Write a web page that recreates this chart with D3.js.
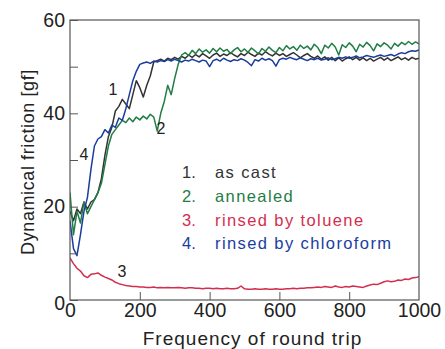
<!DOCTYPE html>
<html><head><meta charset="utf-8">
<script src="https://cdn.jsdelivr.net/npm/d3@7"></script>
<style>
html,body{margin:0;padding:0;background:#fff;}
svg{display:block;font-family:"Liberation Sans",Arial,sans-serif;}
</style></head>
<body><svg id="c" width="445" height="349"></svg>
<script>
const rounds = [0,10,20,30,40,50,60,70,80,90,100,110,120,130,140,150,160,170,180,190,200,210,220,230,240,250,260,270,280,290,300,310,320,330,340,350,360,370,380,390,400,410,420,430,440,450,460,470,480,490,500,510,520,530,540,550,560,570,580,590,600,610,620,630,640,650,660,670,680,690,700,710,720,730,740,750,760,770,780,790,800,810,820,830,840,850,860,870,880,890,900,910,920,930,940,950,960,970,980,990,1000];

const asCast = [19,17,19.5,18.5,21,19.5,21,21.5,23,26,31,35,37,40.5,41.5,43,42,41,44,47,45.5,43.5,46,48,51,51.3,51.6,51.2,51.8,51.5,52,51.6,52.2,51.8,52.5,52,52.6,52.1,52.8,52.3,51.8,52.5,52.9,52.2,52.7,52.4,53,52.5,52.1,52.8,52.4,53.1,52.6,52.2,52.9,52.5,53.2,52.7,52.3,52.9,52.4,52.8,52.2,52.6,53,52.5,51.9,52.4,52.8,52.2,51.8,52.3,51.6,52.1,51.4,52,51.3,51.9,51.2,51.7,52.1,51.5,52,51.4,51.9,51.3,51.8,51.2,51.6,52,51.4,51.9,51.3,51.7,52.1,51.5,51.9,51.4,52,51.6,51.8];

const annealed = [23,14,19,16.5,21,18.5,20,21.5,23,25,29,33,35.5,36.5,37.5,38.5,38,39,38.2,39.2,38.6,39.4,38.8,39.8,39.2,36.2,40,42.5,46,44,47.5,50.5,52.5,53,52.4,53.5,52.8,53.8,53.1,53.6,52.9,53.9,53.2,54,53.3,53.7,52.8,53.6,54.1,53.2,53.8,53.1,54,53.4,52.7,53.9,53.3,54.2,53.5,53,54.1,53.4,54.5,53.8,54.3,53.5,54.6,53.9,54.4,53.6,54.8,54.1,52.8,54.6,54,55,54.2,52.5,54.7,54.1,55.1,54.4,53.2,54.8,54.2,55.2,54.5,53.4,54.9,54.3,55.1,54.6,53.8,55,54.4,55.2,54.7,55.4,54.8,55.3,54.9];

const toluene = [9,7.8,6.8,6.2,5.2,4.8,5.5,5.6,5.8,5.3,4.9,4.6,4.3,3.8,3.5,3.3,3.1,3,2.9,2.9,2.8,2.8,2.7,2.7,2.8,2.6,2.7,2.6,2.7,2.6,2.6,2.7,2.6,2.5,2.6,2.6,2.5,2.5,2.4,2.5,2.5,2.4,2.5,2.4,2.4,2.5,2.4,2.4,2.5,3,2.4,2.3,2.3,2.4,2.3,2.3,2.4,2.3,2.3,2.4,2.3,2.3,2.4,2.4,2.5,2.4,2.5,2.5,2.6,2.6,2.7,2.8,2.7,2.9,2.8,2.7,3,2.8,2.7,2.9,2.8,3,2.9,2.8,2.7,3,3.2,3.4,3.3,3.6,3.9,4.1,3.9,4,4.3,4.2,4.5,4.4,4.7,4.8,5];

const chloroform = [17,11,9.5,14,19,22,28,33,34.5,35,36.5,35.8,37.5,37,39,38.5,41,44,47,49,50.5,50.8,51,50.7,51.2,51,51.3,51.1,51.5,51.2,51.6,51.3,51,51.4,51.2,51.6,51.3,51,51.4,51.2,50,51.3,51.6,51.2,51.8,51.4,51.1,51.5,51.3,51.7,51.4,50.9,50.2,51.5,51.2,51.8,51.4,51.7,51.3,50.1,51.5,51.8,51.6,52,51.7,51.5,51.9,51.6,51.3,51.7,51.5,51.8,51.4,51.6,51.9,51.5,51.7,52,51.8,52.1,51.8,52,52.3,51.9,52.1,52.4,52.2,52,52.3,52.5,52.2,52.4,52.6,52.3,52.7,53,52.8,53.2,53.4,53.3,53.6];

const seriesNames = ["as cast","annealed","rinsed by toluene","rinsed by chloroform"];
const seriesNums = ["1.","2.","3.","4."];
const seriesColors = ["#333333","#1f7d45","#d42e4e","#1a3d9e"];
const curveTags = ["1","2","3","4"];
const xTicks = [0,200,400,600,800,1000];
const yTicks = [0,10,20,30,40,50,60];
const yLabels = [0,20,40,60];
const xTitle = "Frequency of round trip";
const yTitle = "Dynamical friction [gf]";

const allSeries = [asCast, annealed, toluene, chloroform];
const svg = d3.select("#c");
const L=70, R=419, T=20, B=300;
const x = d3.scaleLinear().domain([0,1000]).range([L,R]);
const y = d3.scaleLinear().domain([0,60]).range([B,T]);

svg.append("clipPath").attr("id","pc").append("rect")
  .attr("x",L).attr("y",T).attr("width",R-L).attr("height",B-T);

const line = d3.line().x((d,i)=>x(rounds[i])).y(d=>y(d));
const g = svg.append("g").attr("clip-path","url(#pc)");
allSeries.forEach((s,k)=>{
  g.append("path").datum(s).attr("d",line).attr("fill","none")
    .attr("stroke",seriesColors[k]).attr("stroke-width",1.5).attr("stroke-linejoin","round");
});

// axes
const yAx = svg.append("g").attr("transform",`translate(${L},0)`)
  .call(d3.axisLeft(y).tickValues(yTicks).tickSize(-8).tickPadding(5)
    .tickFormat(d=>yLabels.includes(d)?d:""));
const xAx = svg.append("g").attr("transform",`translate(0,${B})`)
  .call(d3.axisBottom(x).tickValues(xTicks).tickSize(-8).tickPadding(3).tickFormat(d3.format("d")));
[yAx,xAx].forEach(a=>{
  a.select(".domain").remove();
  a.selectAll(".tick line").attr("stroke","#555");
  a.selectAll(".tick text").attr("fill","#222").style("font-size","19.5px");
});
yAx.selectAll(".tick text").filter(d=>d===0).attr("dy","0.5em");
xAx.selectAll(".tick line").filter(d=>d===0||d===1000).remove();

svg.append("rect").attr("x",L).attr("y",T).attr("width",R-L).attr("height",B-T)
  .attr("fill","none").attr("stroke","#555").attr("stroke-width",1.2);

svg.append("text").attr("x",(L+R)/2+8).attr("y",345).attr("text-anchor","middle")
  .attr("fill","#222").style("font-size","19px").style("letter-spacing","1px").text(xTitle);
svg.append("text").attr("transform","translate(28,162) rotate(-90)").attr("text-anchor","middle")
  .attr("dy","0.35em").attr("fill","#222").style("font-size","18px").style("letter-spacing","0.6px").text(yTitle);

// curve tags
const tagPos = [[113,89],[161,128],[122,271],[84,154]];
curveTags.forEach((t,k)=>{
  svg.append("text").attr("x",tagPos[k][0]).attr("y",tagPos[k][1]).attr("dy","0.35em")
    .attr("text-anchor","middle").attr("fill","#222").style("font-size","16px").text(t);
});

// legend
const legY = [172,196,220,243];
seriesNames.forEach((n,k)=>{
  svg.append("text").attr("x",182).attr("y",legY[k]).attr("dy","0.35em")
    .attr("fill",seriesColors[k]).style("font-size","16.5px").text(seriesNums[k]);
  svg.append("text").attr("x",215).attr("y",legY[k]).attr("dy","0.35em")
    .attr("fill",seriesColors[k]).style("font-size","16.5px").style("letter-spacing","1.4px").text(n);
});
</script></body></html>
